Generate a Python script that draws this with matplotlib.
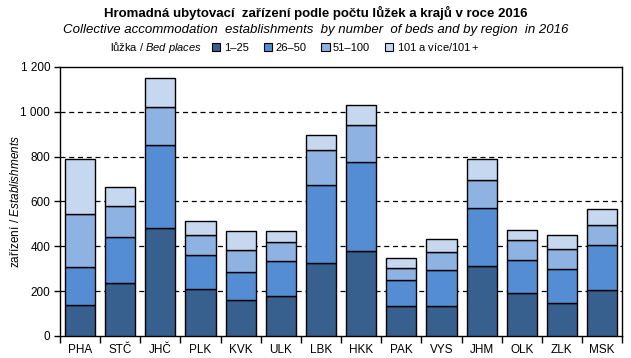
import matplotlib
matplotlib.use("Agg")
import matplotlib.pyplot as plt
import numpy as np
from matplotlib.patches import Patch
from matplotlib.ticker import FuncFormatter, MultipleLocator

plt.rcParams['font.family'] = ['Liberation Sans', 'DejaVu Sans']
plt.rcParams['mathtext.fontset'] = 'custom'
plt.rcParams['mathtext.it'] = 'Liberation Sans:italic'
plt.rcParams['mathtext.rm'] = 'Liberation Sans'

regions = ["PHA", "STČ", "JHČ", "PLK", "KVK", "ULK", "LBK", "HKK", "PAK", "VYS", "JHM", "OLK", "ZLK", "MSK"]
cum_1_25 = [137, 235, 480, 208, 159, 177, 324, 378, 132, 132, 311, 190, 146, 204]
cum_26_50 = [306, 440, 851, 360, 284, 333, 672, 775, 248, 293, 570, 338, 297, 404]
cum_51_100 = [543, 578, 1020, 449, 382, 418, 828, 940, 302, 373, 694, 427, 387, 494]
totals = [788, 663, 1149, 512, 467, 467, 895, 1030, 346, 431, 788, 471, 449, 565]

s1 = np.array(cum_1_25)
s2 = np.array(cum_26_50) - s1
s3 = np.array(cum_51_100) - np.array(cum_26_50)
s4 = np.array(totals) - np.array(cum_51_100)

colors = ["#37608f", "#548dd4", "#8eb3e2", "#c6d8f0"]
labels = ["1–25", "26–50", "51–100", "101 a více/$\\mathit{101+}$"]

fig = plt.figure(figsize=(6.31, 3.58), dpi=100)
ax = fig.add_axes([0.095, 0.0615, 0.891, 0.7515])

x = np.arange(len(regions))
bottom = np.zeros(len(regions))
for vals, c in zip([s1, s2, s3, s4], colors):
    ax.bar(x, vals, bottom=bottom, width=0.75, color=c, edgecolor="black", linewidth=1.0, zorder=3)
    bottom += vals

ax.set_xlim(-0.5, len(regions) - 0.5)
ax.set_ylim(0, 1200)
ax.yaxis.set_major_locator(MultipleLocator(200))
ax.yaxis.set_major_formatter(FuncFormatter(lambda v, p: f"{int(v):,}".replace(",", " ")))
for yv in range(200, 1200, 200):
    ax.axhline(yv, color="black", linestyle=(0, (4, 3)), linewidth=0.9, zorder=1)

ax.set_xticks(x)
ax.set_xticklabels(regions)
ax.set_xticks(np.arange(-0.5, len(regions), 1), minor=True)
ax.tick_params(axis="x", which="major", length=0, pad=6, labelsize=8.5)
ax.tick_params(axis="x", which="minor", length=5, width=1, direction="out")
ax.tick_params(axis="y", length=4, width=1, direction="out", labelsize=8.5, pad=3)
for sp in ax.spines.values():
    sp.set_linewidth(1.0)

ax.set_ylabel("zařízení / $\\mathit{Establishments}$", fontsize=8.5, labelpad=-1)

fig.text(0.5, 0.965, "Hromadná ubytovací  zařízení podle počtu lůžek a krajů v roce 2016",
         ha="center", va="center", fontsize=9.5, fontweight="bold")
fig.text(0.5, 0.917, "Collective accommodation  establishments  by number  of beds and by region  in 2016",
         ha="center", va="center", fontsize=9.5, style="italic")

fig.text(0.175, 0.868, "lůžka / $\\mathit{Bed\\ places}$", ha="left", va="center", fontsize=8)
handles = [Patch(facecolor=c, edgecolor="black", linewidth=0.8) for c in colors]
fig.legend(handles, labels, loc="center left", bbox_to_anchor=(0.336, 0.868), ncol=4,
           frameon=False, fontsize=8, handlelength=0.75, handleheight=0.75,
           handletextpad=0.3, columnspacing=1.35, borderaxespad=0, borderpad=0)

fig.savefig("out.png", dpi=100)
